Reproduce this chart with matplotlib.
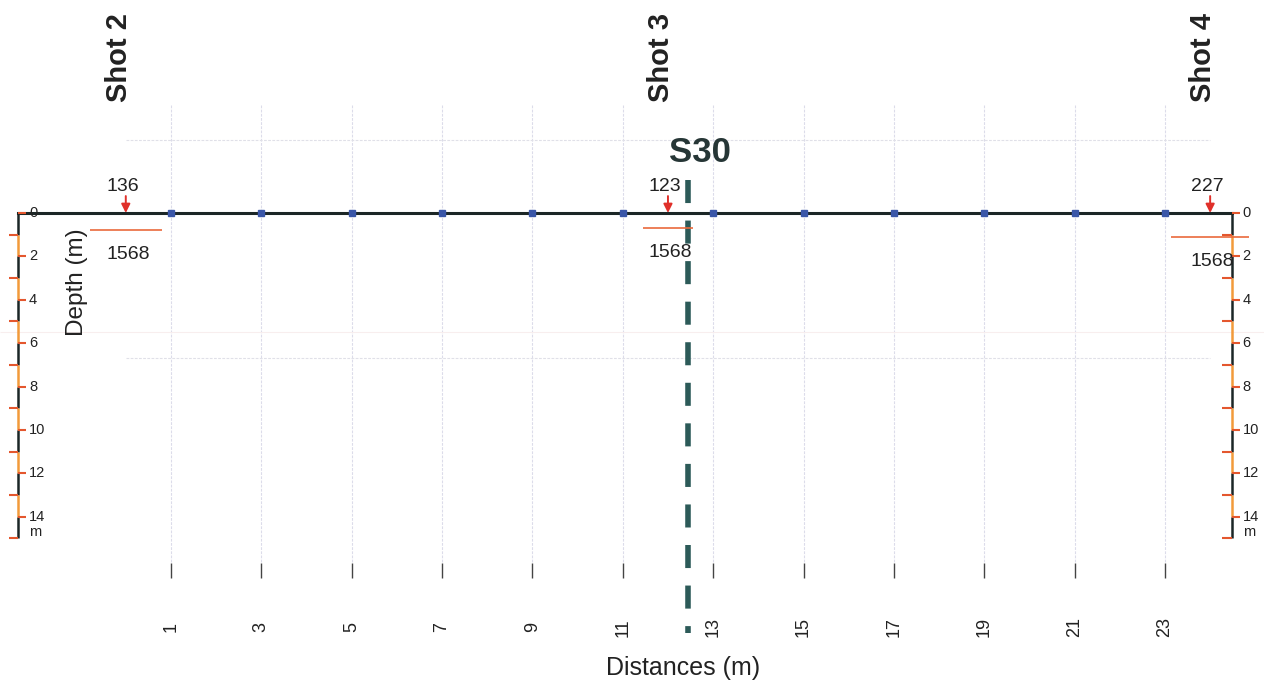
import matplotlib
matplotlib.use("Agg")
import matplotlib.pyplot as plt

plt.rcParams["font.family"] = ["Liberation Sans", "DejaVu Sans"]
plt.rcParams["lines.scale_dashes"] = False

# Survey layout (metres)
geophone_x = [1, 3, 5, 7, 9, 11, 13, 15, 17, 19, 21, 23]
shot_x = [0, 12, 24]
shot_names = ["Shot 2", "Shot 3", "Shot 4"]
shot_times = ["136", "123", "227"]
layer_depth = [0.78, 0.68, 1.10]
layer_half = [0.80, 0.55, 0.86]
layer_velocity = ["1568", "1568", "1568"]
section_x = 12.45
section_name = "S30"
depth_major = [0, 2, 4, 6, 8, 10, 12, 14]
depth_minor = [1, 3, 5, 7, 9, 11, 13, 15]
depth_max = 15
left_scale_x = -2.38
right_scale_x = 24.48

RED = "#e4572e"
ORANGE = "#f29a3a"
DARK = "#1b2626"

fig = plt.figure(figsize=(12.64, 6.86), dpi=100)
ax = fig.add_axes([0, 0, 1, 1])
ax.set_xlim(-2.784, 25.192)
ax.set_ylim(21.80, -9.816)
ax.axis("off")

# faint background grid
ax.vlines(geophone_x, -4.98, 16.1, color="#dcdcea", lw=0.8, ls=(0, (2, 1)), zorder=1)
ax.hlines([-3.36, 6.68], 0, 24, color="#e0e0e8", lw=0.8, ls=(0, (2, 1)), zorder=1)
ax.hlines([5.48], -2.784, 25.192, color="#f8eeee", lw=0.8, zorder=1)

# ground surface with geophones
ax.plot([left_scale_x, right_scale_x], [0, 0], color=DARK, lw=2.2, zorder=3)
ax.plot(geophone_x, [0] * len(geophone_x), ls="none", marker="s", ms=4.5,
        color="#3a56a8", zorder=4)

# depth scale bars on both sides
for xa in (left_scale_x, right_scale_x):
    for i in range(depth_max):
        ax.plot([xa, xa], [i, i + 1], color=DARK if i % 2 == 0 else ORANGE,
                lw=1.8, solid_capstyle="butt", zorder=3)
    ax.hlines(depth_major, xa, xa + 0.17, color=RED, lw=1.5, zorder=3)
    ax.hlines(depth_minor, xa - 0.21, xa, color=RED, lw=1.5, zorder=3)
    for d in depth_major:
        ax.text(xa + 0.24, d, str(d), fontsize=10.5, ha="left", va="center",
                color="#222222", zorder=5)
    ax.text(xa + 0.24, 14.7, "m", fontsize=10.5, ha="left", va="center",
            color="#222222", zorder=5)

# distance ticks and labels
ax.vlines(geophone_x, 16.13, 16.82, color="#444444", lw=1.0)
for g in geophone_x:
    ax.text(g, 19.1, str(g), rotation=90, fontsize=13, ha="center", va="center",
            color="#222222")

# shots: arrows, times, refractor depth and velocity
for sx, name, t, dep, hw, vel in zip(shot_x, shot_names, shot_times,
                                     layer_depth, layer_half, layer_velocity):
    ax.text(sx - 0.16, -7.17, name, rotation=90, fontsize=21, fontweight="bold",
            ha="center", va="center", color="#222222")
    ax.annotate("", xy=(sx, 0), xytext=(sx, -0.78),
                arrowprops=dict(arrowstyle="-|>", color="#e0302a", lw=1.4,
                                mutation_scale=13, shrinkA=0, shrinkB=0),
                zorder=6)
    ax.text(sx - 0.06, -1.2, t, fontsize=14, ha="center", va="center",
            color="#222222", zorder=6)
    ax.hlines(dep, sx - hw, sx + hw, color="#ea6a3c", lw=1.2, zorder=5)
    ax.text(sx + 0.05, dep + 1.15, vel, fontsize=14, ha="center", va="center",
            color="#222222", zorder=6)

# cross-section marker
ax.plot([section_x, section_x], [-1.52, 19.35], color="#2c5a58", lw=4,
        dashes=(16.6, 12.6), dash_capstyle="butt", zorder=4)
ax.text(section_x + 0.25, -2.81, section_name, fontsize=25, fontweight="bold",
        ha="center", va="center", color="#263636", zorder=6)

# axis titles
ax.text(-1.08, 3.2, "Depth (m)", rotation=90, fontsize=17.5, ha="center",
        va="center", color="#222222", zorder=6)
ax.text(12.34, 20.97, "Distances (m)", fontsize=18, ha="center", va="center",
        color="#222222")

fig.savefig("out.png", dpi=100)
